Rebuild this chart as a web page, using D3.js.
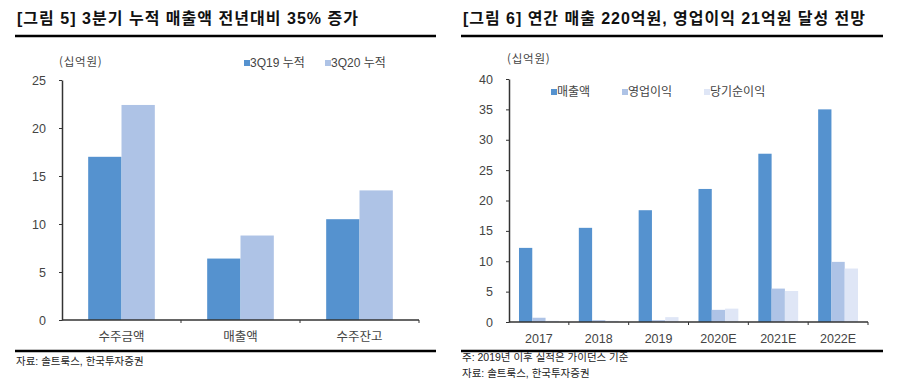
<!DOCTYPE html>
<html lang="ko">
<head>
<meta charset="UTF-8">
<title>솔트룩스 실적</title>
<script src="https://d3js.org/d3.v7.min.js"></script>
<style>
  body { margin: 0; background: #fff; }
  svg { display: block; font-family: "Liberation Sans", Arial, "Noto Sans CJK KR", sans-serif; }
  .kr { font-family: "Noto Sans CJK KR", "Liberation Sans", sans-serif; }
  .axis path, .axis line { stroke: #333; }
  .axis text { fill: #444; font-size: 12.5px; }
</style>
</head>
<body>
<script>
// 그림 5 데이터
var cats5 = ['수주금액', '매출액', '수주잔고'];
var series5 = ['3Q19 누적', '3Q20 누적'];
var q19 = [17.0, 6.4, 10.5];
var q20 = [22.4, 8.8, 13.5];
var yTicks5 = [0, 5, 10, 15, 20, 25];

// 그림 6 데이터
var years6 = ['2017', '2018', '2019', '2020E', '2021E', '2022E'];
var series6 = ['매출액', '영업이익', '당기순이익'];
var sales = [12.2, 15.5, 18.4, 21.9, 27.7, 35.0];
var opProfit = [0.7, 0.3, 0.3, 2.0, 5.5, 9.9];
var netProfit = [0.2, 0.2, 0.8, 2.2, 5.1, 8.8];
var yTicks6 = [0, 5, 10, 15, 20, 25, 30, 35, 40];

var colors = ['#5592cf', '#aec3e6', '#dfe6f6'];

var svg = d3.select('body').append('svg').attr('width', 904).attr('height', 385);

// 공통 틀: 제목, 굵은 선
function frame(x0, x1, title, titleW) {
    svg.append('text').attr('x', x0 + 2).attr('y', 24)
        .attr('font-size', 16).attr('font-weight', 'bold').attr('fill', '#111')
        .attr('textLength', titleW).attr('lengthAdjust', 'spacing').text(title);
    svg.append('line').attr('x1', x0).attr('x2', x1).attr('y1', 36).attr('y2', 36)
        .attr('stroke', '#000').attr('stroke-width', 2.5);
    svg.append('line').attr('x1', x0).attr('x2', x1).attr('y1', 351).attr('y2', 351)
        .attr('stroke', '#000').attr('stroke-width', 2.5);
}

function barChart(o) {
    var g = svg.append('g');
    var x = d3.scaleBand().domain(o.cats).range([o.left, o.right]);
    var x1 = d3.scaleBand().domain(o.series)
        .range([x.bandwidth() * o.pad, x.bandwidth() * (1 - o.pad)]);
    var y = d3.scaleLinear().domain(o.yDomain).range([o.bottom, o.top]);

    // 막대
    o.series.forEach(function(s, i) {
        g.append('g').selectAll('rect').data(o.values[i]).join('rect')
            .attr('x', function(d, j) { return x(o.cats[j]) + x1(s); })
            .attr('y', function(d) { return y(d); })
            .attr('width', x1.bandwidth())
            .attr('height', function(d) { return y(0) - y(d); })
            .attr('fill', colors[i]);
    });

    // y축
    var ya = g.append('g').attr('class', 'axis').attr('transform', 'translate(' + o.left + ',0)')
        .call(d3.axisLeft(y).tickValues(o.yTicks).tickSize(3).tickSizeOuter(0).tickPadding(o.tickPad));
    ya.select('.domain').attr('stroke-width', 1.5);

    // x축 (범주 경계에 눈금)
    var xa = g.append('g').attr('class', 'axis');
    xa.append('line').attr('x1', o.left).attr('x2', o.right).attr('y1', y(0)).attr('y2', y(0))
        .attr('stroke', '#333').attr('stroke-width', 1.5);
    xa.selectAll('.tk').data(o.cats).join('line').attr('class', 'tk')
        .attr('x1', function(d) { return x(d) + x.bandwidth(); })
        .attr('x2', function(d) { return x(d) + x.bandwidth(); })
        .attr('y1', y(0)).attr('y2', y(0) + 3);
    xa.selectAll('text').data(o.cats).join('text')
        .attr('class', o.catClass)
        .attr('x', function(d) { return x(d) + x.bandwidth() / 2; })
        .attr('y', y(0) + 21)
        .attr('text-anchor', 'middle')
        .text(function(d) { return d; });

    // 단위
    g.append('text').attr('class', 'kr').attr('x', o.unitX).attr('y', o.unitY)
        .attr('font-size', 11.5).attr('letter-spacing', 0.8).attr('fill', '#444').text('(십억원)');

    // 범례
    var lg = g.append('g');
    o.series.forEach(function(s, i) {
        var lx = o.legendX[i];
        lg.append('rect').attr('x', lx).attr('y', o.legendY - 7).attr('width', 6).attr('height', 6)
            .attr('fill', colors[i]);
        lg.append('text').attr('x', lx + 6).attr('y', o.legendY)
            .attr('font-size', 12).attr('fill', '#444').text(s);
    });
}

frame(15, 436, '[그림 5] 3분기 누적 매출액 전년대비 35% 증가', 341);
frame(461, 883, '[그림 6] 연간 매출 220억원, 영업이익 21억원 달성 전망', 402);

barChart({
    cats: cats5, series: series5, values: [q19, q20],
    left: 62, right: 419, top: 80, bottom: 320, yDomain: [0, 25], yTicks: yTicks5,
    pad: 0.22, tickPad: 13, catClass: 'kr',
    unitX: 59, unitY: 66, legendX: [244, 325], legendY: 67
});

barChart({
    cats: years6, series: series6, values: [sales, opProfit, netProfit],
    left: 509, right: 868, top: 79, bottom: 322, yDomain: [0, 40], yTicks: yTicks6,
    pad: 0.167, tickPad: 13, catClass: '',
    unitX: 507, unitY: 63, legendX: [551, 622, 704], legendY: 96
});

// 출처, 주석
svg.append('text').attr('x', 16).attr('y', 365).attr('font-size', 10.5)
    .attr('fill', '#222').text('자료: 솔트룩스, 한국투자증권');
svg.append('text').attr('x', 462).attr('y', 361).attr('font-size', 10.5)
    .attr('fill', '#222').text('주: 2019년 이후 실적은 가이던스 기준');
svg.append('text').attr('x', 462).attr('y', 377).attr('font-size', 10.5)
    .attr('fill', '#222').text('자료: 솔트룩스, 한국투자증권');
</script>
</body>
</html>
